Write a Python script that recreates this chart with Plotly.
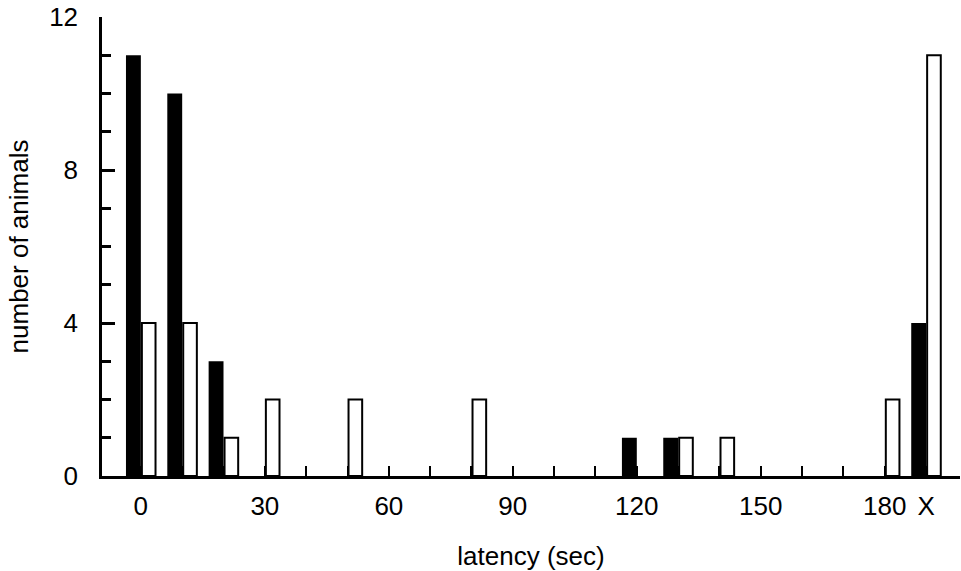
import plotly.graph_objects as go

# Latency bins (sec); the last bin "X" holds animals that never responded
bin_labels = ["0", "10", "20", "30", "40", "50", "60", "70", "80", "90",
              "100", "110", "120", "130", "140", "150", "160", "170", "180", "X"]
bin_pos = [0, 10, 20, 30, 40, 50, 60, 70, 80, 90,
           100, 110, 120, 130, 140, 150, 160, 170, 180, 190]

# Number of animals per bin
filled_counts = [11, 10, 3, 0, 0, 0, 0, 0, 0, 0, 0, 0, 1, 1, 0, 0, 0, 0, 0, 4]
open_counts = [4, 4, 1, 2, 0, 2, 0, 0, 2, 0, 0, 0, 0, 1, 1, 0, 0, 0, 2, 11]

tick_vals = [0, 30, 60, 90, 120, 150, 180, 190]
tick_text = ["0", "30", "60", "90", "120", "150", "180", "X"]

FONT = "Liberation Sans, Arial, sans-serif"
FS = 26


def nonzero(values):
    # empty bins are left undrawn so no outline sits on the baseline
    return [v if v else None for v in values]


fig = go.Figure()
fig.add_trace(go.Bar(
    x=bin_pos, y=nonzero(filled_counts), width=3.6, offset=-3.6,
    marker=dict(color="black", line=dict(width=0)),
    showlegend=False, hoverinfo="skip",
))
fig.add_trace(go.Bar(
    x=bin_pos, y=nonzero(open_counts), width=3.3, offset=0.25,
    marker=dict(color="white", line=dict(color="black", width=2)),
    showlegend=False, hoverinfo="skip",
))

fig.update_layout(
    width=961, height=571,
    margin=dict(l=102, r=1, t=17, b=95),
    paper_bgcolor="white", plot_bgcolor="white",
    barmode="overlay",
    font=dict(family=FONT, size=FS, color="black"),
    xaxis=dict(
        range=[-9.4, 198.2],
        showgrid=False, zeroline=False,
        showline=True, linecolor="black", linewidth=2.5,
        tickmode="array", tickvals=tick_vals, ticktext=tick_text,
        ticks="inside", ticklen=10, tickwidth=2, tickcolor="black",
        minor=dict(tickmode="linear", tick0=0, dtick=10, ticks="inside",
                   ticklen=10, tickwidth=2, tickcolor="black", showgrid=False),
        ticklabelstandoff=5,
        tickfont=dict(size=FS),
        title=dict(text="latency (sec)", font=dict(size=FS), standoff=27),
    ),
    yaxis=dict(
        range=[0, 12],
        showgrid=False, zeroline=False,
        showline=True, linecolor="black", linewidth=2.5,
        tickmode="array", tickvals=[0, 4, 8, 12],
        ticks="inside", ticklen=13, tickwidth=2.5, tickcolor="black",
        minor=dict(tickmode="linear", tick0=0, dtick=1, ticks="inside",
                   ticklen=9, tickwidth=2.5, tickcolor="black", showgrid=False),
        ticklabelstandoff=16,
        tickfont=dict(size=FS),
        title=dict(text="number of animals", font=dict(size=FS), standoff=14),
    ),
)

fig.write_html("out.html")
